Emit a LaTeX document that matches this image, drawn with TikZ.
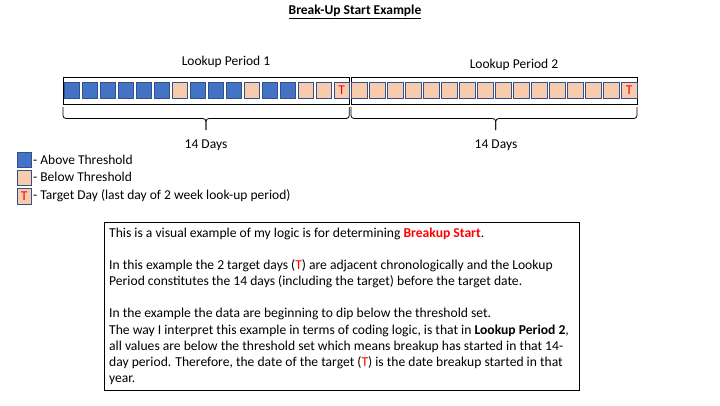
\documentclass[tikz,border=0pt]{standalone}
\usepackage{fontspec}
\setmainfont{Carlito}
\definecolor{bluefill}{HTML}{4472C4}
\definecolor{blueedge}{HTML}{2F528F}
\definecolor{peach}{HTML}{F8CBAD}
\definecolor{tred}{HTML}{FF0000}
\begin{document}
\begin{tikzpicture}[x=1pt,y=-1pt,
  sq/.style={draw=blueedge,line width=0.8pt,minimum width=15.5pt,minimum height=16pt,inner sep=0pt,anchor=north west},
  above/.style={sq,fill=bluefill},
  below/.style={sq,fill=peach},
  tday/.style={sq,fill=peach,text=tred,font=\fontsize{13.5}{15}\selectfont},
  period/.style={draw=black,line width=1pt,minimum width=286pt,minimum height=26.5pt,inner sep=0pt,anchor=north west},
  lbl/.style={font=\fontsize{13.5}{15}\selectfont,inner sep=0pt},
  leg/.style={font=\fontsize{13.5}{15}\selectfont,inner sep=0pt,anchor=west},
  body/.style={font=\fontsize{13.6}{15}\selectfont,inner sep=0pt,anchor=base west},
  bracebr/.style={draw=black,line width=0.8pt,rounded corners=3pt}
]
\useasboundingbox (0,0) rectangle (720,405);
% title
\node[font=\fontsize{13.5}{15}\selectfont\bfseries,inner sep=0pt] (title) at (355,12) {\underline{Break-Up Start Example}};
% period labels
\node[lbl] (lp1) at (226,62) {Lookup Period 1};
\node[lbl] (lp2) at (514,65) {Lookup Period 2};
% outer rects
\node[period] (p1) at (63,77.3) {};
\node[period] (p2) at (351,77.3) {};
% period 1 squares
\foreach \t [count=\i from 0] in {above,above,above,above,above,above,below,above,above,above,below,above,above,below,below}{
  \node[\t] (a\i) at (63.5+18*\i,82) {};
}
\node[tday] (a15) at (333.5,82) {T};
% period 2 squares
\foreach \i in {0,...,14}{
  \node[below] (b\i) at (351+18*\i,82) {};
}
\node[tday] (b15) at (621,82) {T};
% braces
\coordinate (br1l) at (63,107);
\coordinate (br1r) at (349.3,107);
\coordinate (br1c) at (206,118.5);
\coordinate (br1m) at (206,130);
\coordinate (br2l) at (351,107);
\coordinate (br2r) at (637,107);
\coordinate (br2c) at (495.7,118.5);
\coordinate (br2m) at (495.7,130);
\draw[bracebr] (br1l) |- (br1c) -- (br1m);
\draw[bracebr] (br1r) |- (br1c) -- (br1m);
\draw[bracebr] (br2l) |- (br2c) -- (br2m);
\draw[bracebr] (br2r) |- (br2c) -- (br2m);
\node[lbl] (d1) at (206,145) {14 Days};
\node[lbl] (d2) at (496,145) {14 Days};
% legend
\node[above,minimum width=14.5pt,minimum height=15pt] (k1) at (16.5,152.3) {};
\node[below,minimum width=14.5pt,minimum height=15pt] (k2) at (16.5,169.5) {};
\node[tday,minimum width=14.5pt,minimum height=15.5pt] (k3) at (16.5,188.3) {T};
\node[leg] (t1) at (33,159.5) {- Above Threshold};
\node[leg] (t2) at (33,177) {- Below Threshold};
\node[leg] (t3) at (33,196) {- Target Day (last day of 2 week look-up period)};
% text box
\node[draw=black,line width=1pt,minimum width=475pt,minimum height=168.5pt,inner sep=0pt,anchor=north west] (box) at (104.3,221.7) {};
\node[body] (l1) at (109,237.5) {This is a visual example of my logic is for determining \textcolor{tred}{\bfseries Breakup Start}.};
\node[body] (l2) at (109,269.5) {In this example the 2 target days (\textcolor{tred}{T}) are adjacent chronologically and the Lookup};
\node[body] (l3) at (109,285.5) {Period constitutes the 14 days (including the target) before the target date.};
\node[body] (l4) at (109,317.5) {In the example the data are beginning to dip below the threshold set.};
\node[body] (l5) at (109,334) {The way I interpret this example in terms of coding logic, is that in \textbf{Lookup Period 2},};
\node[body] (l6) at (109,350) {all values are below the threshold set which means breakup has started in that 14-};
\node[body] (l7) at (109,366) {day period. Therefore, the date of the target (\textcolor{tred}{T}) is the date breakup started in that};
\node[body] (l8) at (109,382) {year.};
\end{tikzpicture}
\end{document}
